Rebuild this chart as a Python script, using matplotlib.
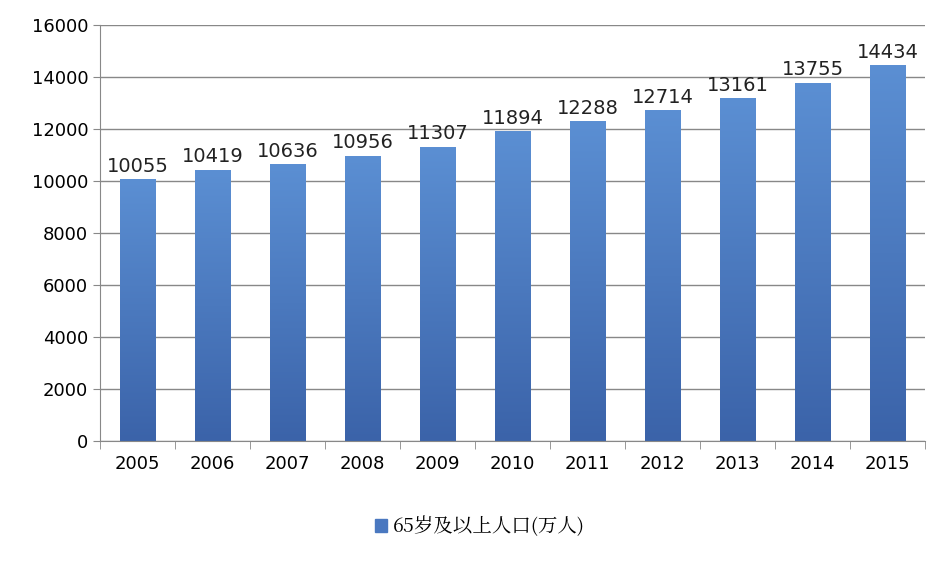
import matplotlib
matplotlib.use("Agg")
import matplotlib.pyplot as plt
import numpy as np
from matplotlib.colors import LinearSegmentedColormap
from matplotlib.patches import Patch
from matplotlib import font_manager

cjk = None
for f in font_manager.fontManager.ttflist:
    if 'CJK' in f.name:
        cjk = f.name
        if 'SC' in f.name:
            break
plt.rcParams['font.family'] = [cjk or 'Noto Sans CJK SC', 'DejaVu Sans']

years = ['2005','2006','2007','2008','2009','2010','2011','2012','2013','2014','2015']
values = [10055,10419,10636,10956,11307,11894,12288,12714,13161,13755,14434]
series_name = '65岁及以上人口(万人)'

fig = plt.figure(figsize=(9.52,5.64), dpi=100)
ax = fig.add_axes([100/952, 1-441/564, 825/952, 416/564])
x = np.arange(len(years))
w = 0.47
cmap = LinearSegmentedColormap.from_list('g', ['#3b63a9', '#5b8fd3'])
grad = np.linspace(0, 1, 256).reshape(-1, 1)
for xi, v in zip(x, values):
    ax.imshow(grad, extent=[xi-w/2, xi+w/2, 0, v], origin='lower', cmap=cmap, aspect='auto', zorder=2)
    ax.text(xi, v+150, str(v), ha='center', va='bottom', fontsize=14, color='#222222', family='DejaVu Sans')
ax.set_xlim(-0.5, len(years)-0.5)
ax.set_ylim(0, 16000)
ax.set_yticks(range(0, 16001, 2000))
ax.set_yticklabels([str(t) for t in range(0, 16001, 2000)], fontsize=13, family='DejaVu Sans')
ax.set_xticks(x)
ax.set_xticklabels(years, fontsize=13, family='DejaVu Sans')
ax.set_xticks(np.arange(-0.5, len(years)), minor=True)
ax.tick_params(axis='x', which='major', length=0, pad=10)
ax.tick_params(axis='x', which='minor', length=6, color='#888888')
ax.tick_params(axis='y', length=5, color='#888888')
ax.grid(axis='y', color='#888888', linewidth=1, zorder=0)
for s in ['top', 'right']:
    ax.spines[s].set_visible(False)
ax.spines['left'].set_color('#888888')
ax.spines['bottom'].set_color('#888888')
fig.legend(handles=[Patch(color='#4a78c0')], labels=[series_name], loc='center',
           bbox_to_anchor=(480/952, 1-527/564), frameon=False, fontsize=14,
           handlelength=0.6, handleheight=0.6, handletextpad=0.3)
fig.savefig('out.png', dpi=100)
